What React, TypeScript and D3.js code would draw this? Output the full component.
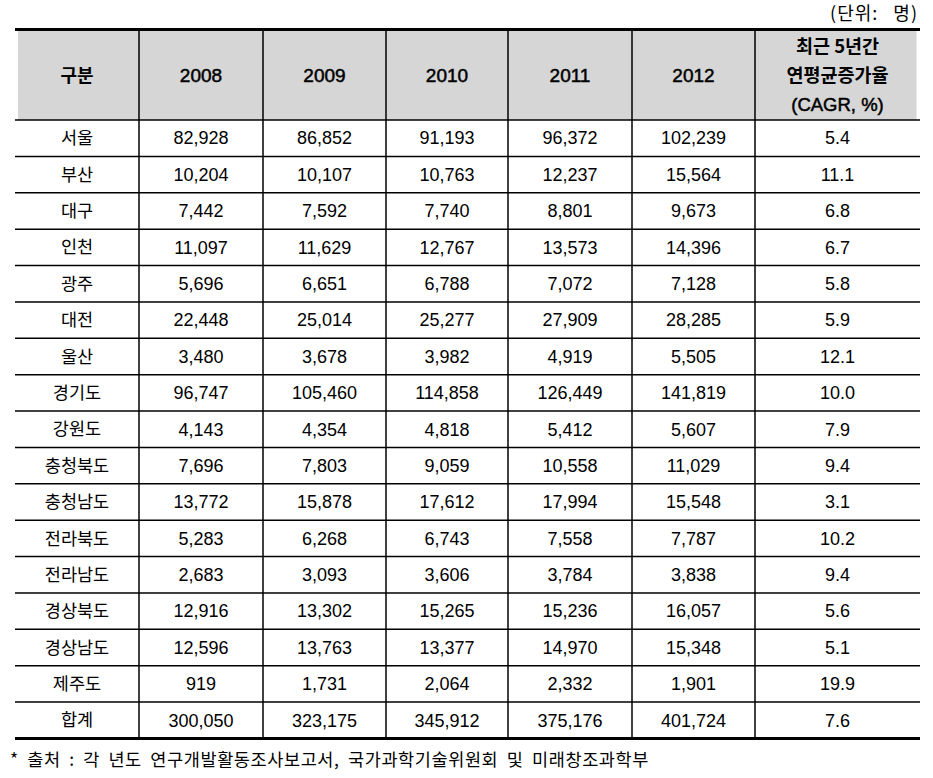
import React from "react";
import * as d3 from "d3";

const regions = ["서울","부산","대구","인천","광주","대전","울산","경기도","강원도","충청북도","충청남도","전라북도","전라남도","경상북도","경상남도","제주도","합계"];
const years = ["2008","2009","2010","2011","2012"];
const v2008 = [82928,10204,7442,11097,5696,22448,3480,96747,4143,7696,13772,5283,2683,12916,12596,919,300050];
const v2009 = [86852,10107,7592,11629,6651,25014,3678,105460,4354,7803,15878,6268,3093,13302,13763,1731,323175];
const v2010 = [91193,10763,7740,12767,6788,25277,3982,114858,4818,9059,17612,6743,3606,15265,13377,2064,345912];
const v2011 = [96372,12237,8801,13573,7072,27909,4919,126449,5412,10558,17994,7558,3784,15236,14970,2332,375176];
const v2012 = [102239,15564,9673,14396,7128,28285,5505,141819,5607,11029,15548,7787,3838,16057,15348,1901,401724];
const cagr = [5.4,11.1,6.8,6.7,5.8,5.9,12.1,10.0,7.9,9.4,3.1,10.2,9.4,5.6,5.1,19.9,7.6];
const headerFirst = "구분";
const headerLast = ["최근 5년간","연평균증가율","(CAGR, %)"];
const unitLabel = "(단위: 명)";
const sourceNote = "* 출처 : 각 년도 연구개발활동조사보고서, 국가과학기술위원회 및 미래창조과학부";

const series = [v2008, v2009, v2010, v2011, v2012];

const W = 933, H = 778;
const colEdges = [15, 139, 263, 386, 508, 632, 755, 920];
const headTop = 29.5, headBottom = 120, tableBottom = 738.5;

const KR = "'Noto Sans CJK KR', sans-serif";
const NUM = "'Liberation Sans', Arial, 'Noto Sans CJK KR', sans-serif";

export default function App() {
  const y = d3.scaleBand<string>().domain(regions).range([headBottom, tableBottom]).paddingInner(0);
  const colCenter = (i: number) => (colEdges[i] + colEdges[i + 1]) / 2;
  const fmt = d3.format(",");
  const fmt1 = d3.format(".1f");
  const headMid = (headTop + headBottom) / 2 + 1;

  return (
    <svg width={W} height={H} style={{ position: "absolute", left: 0, top: 0, background: "#fff" }}>
      <rect x={0} y={0} width={W} height={H} fill="#fff" />
      <rect x={18} y={headTop + 1.5} width={916.5 - 18} height={headBottom - headTop - 1.5} fill="#d6d6d6" />
      <text x={918} y={14} dy="0.35em" textAnchor="end" letterSpacing={1} wordSpacing={10} fontFamily={KR} fontSize={18} fill="#000">{unitLabel}</text>
      <text x={colCenter(0)} y={headMid} dy="0.35em" textAnchor="middle" fontFamily={KR} fontWeight={700} fontSize={18} fill="#000">{headerFirst}</text>
      {years.map((yr, i) => (
        <text key={yr} x={colCenter(i + 1)} y={headMid} dy="0.35em" textAnchor="middle" fontFamily={NUM} fontWeight={400} stroke="#000" strokeWidth={0.5} fontSize={19} fill="#000">{yr}</text>
      ))}
      {headerLast.map((t, i) => (
        <text key={t} x={colCenter(6)} y={47 + i * 29} dy="0.35em" textAnchor="middle" fontFamily={i === 2 ? NUM : KR} fontWeight={i === 2 ? 400 : 700} stroke={i === 2 ? "#000" : "none"} strokeWidth={0.5} fontSize={18.5} fill="#000">{t}</text>
      ))}
      {regions.map((r, ri) => {
        const cy = (y(r) as number) + y.bandwidth() / 2;
        return (
          <g key={r}>
            <text x={colCenter(0)} y={cy} dy="0.35em" textAnchor="middle" fontFamily={KR} fontSize={17.5} fill="#000">{r}</text>
            {series.map((s, si) => (
              <text key={si} x={colCenter(si + 1)} y={cy} dy="0.35em" textAnchor="middle" fontFamily={NUM} fontSize={18} fill="#000">{fmt(s[ri])}</text>
            ))}
            <text x={colCenter(6)} y={cy} dy="0.35em" textAnchor="middle" fontFamily={NUM} fontSize={18} fill="#000">{fmt1(cagr[ri])}</text>
          </g>
        );
      })}
      <line x1={15} x2={920} y1={headTop} y2={headTop} stroke="#000" strokeWidth={3} />
      <line x1={15} x2={920} y1={headBottom} y2={headBottom} stroke="#000" strokeWidth={1.5} />
      {regions.slice(1).map((r) => (
        <line key={r} x1={15} x2={920} y1={y(r) as number} y2={y(r) as number} stroke="#000" strokeWidth={1.5} />
      ))}
      <line x1={15} x2={920} y1={tableBottom} y2={tableBottom} stroke="#000" strokeWidth={3} />
      {colEdges.slice(1, -1).map((x) => (
        <line key={x} x1={x} x2={x} y1={headTop + 1.5} y2={tableBottom - 1.5} stroke="#000" strokeWidth={1.5} />
      ))}
      <text x={10} y={760} dy="0.35em" letterSpacing={0.6} wordSpacing={4} fontFamily={KR} fontSize={17.5} fill="#000">{sourceNote}</text>
    </svg>
  );
}
